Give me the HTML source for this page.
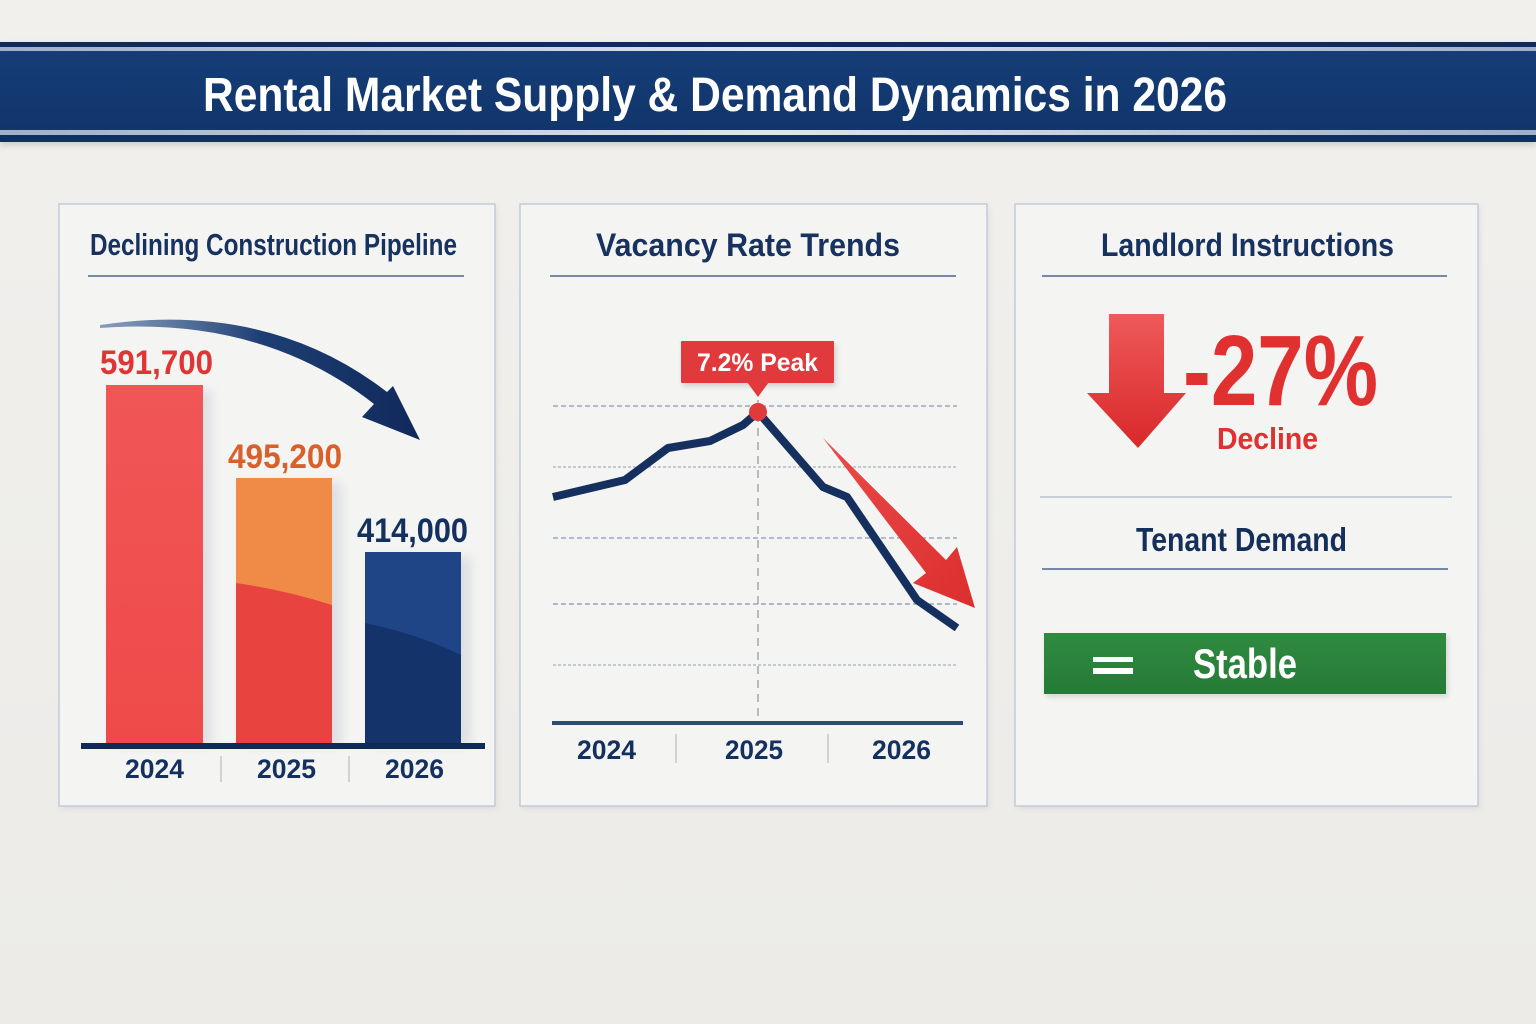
<!DOCTYPE html>
<html>
<head>
<meta charset="utf-8">
<style>
  html, body { margin: 0; padding: 0; background: #efeeeb; }
  svg { display: block; }
  text { font-family: "Liberation Sans", "DejaVu Sans", sans-serif; font-weight: bold; }
</style>
</head>
<body>
<svg width="1536" height="1024" viewBox="0 0 1536 1024" xmlns="http://www.w3.org/2000/svg">
  <defs>
    <linearGradient id="bg" x1="0" y1="0" x2="0" y2="1">
      <stop offset="0" stop-color="#f1f0ed"/>
      <stop offset="1" stop-color="#ecebe8"/>
    </linearGradient>
    <linearGradient id="stripe" x1="0" y1="0" x2="1" y2="0">
      <stop offset="0" stop-color="#9fb0c8"/>
      <stop offset="0.5" stop-color="#dfe5ee"/>
      <stop offset="1" stop-color="#9fb0c8"/>
    </linearGradient>
    <linearGradient id="navyBand" x1="0" y1="0" x2="0" y2="1">
      <stop offset="0" stop-color="#163d77"/>
      <stop offset="1" stop-color="#11356c"/>
    </linearGradient>
    <linearGradient id="bar1" x1="0" y1="0" x2="0" y2="1">
      <stop offset="0" stop-color="#f05656"/>
      <stop offset="1" stop-color="#ef4a4a"/>
    </linearGradient>
    <linearGradient id="arrowNavy" x1="0" y1="0" x2="1" y2="0">
      <stop offset="0" stop-color="#5a78a4" stop-opacity="0.7"/>
      <stop offset="0.5" stop-color="#1e3f74"/>
      <stop offset="1" stop-color="#10295a"/>
    </linearGradient>
    <linearGradient id="redArrow" x1="0" y1="0" x2="1" y2="1">
      <stop offset="0" stop-color="#ea4a4a"/>
      <stop offset="1" stop-color="#dc2e2e"/>
    </linearGradient>
    <linearGradient id="downArrow" x1="0" y1="0" x2="0" y2="1">
      <stop offset="0" stop-color="#ee5a5a"/>
      <stop offset="1" stop-color="#d9282a"/>
    </linearGradient>
    <linearGradient id="green" x1="0" y1="0" x2="0" y2="1">
      <stop offset="0" stop-color="#2f8b40"/>
      <stop offset="1" stop-color="#267a37"/>
    </linearGradient>
    <filter id="shadow" x="-10%" y="-10%" width="120%" height="120%">
      <feGaussianBlur stdDeviation="3"/>
    </filter>
    <filter id="soft" x="-20%" y="-20%" width="140%" height="140%">
      <feGaussianBlur stdDeviation="5"/>
    </filter>
  </defs>

  <!-- background -->
  <rect x="0" y="0" width="1536" height="1024" fill="url(#bg)"/>

  <!-- banner -->
  <rect x="0" y="44" width="1536" height="102" fill="#000" opacity="0.12" filter="url(#shadow)"/>
  <rect x="0" y="42" width="1536" height="100" fill="#0f2b5a"/>
  <rect x="0" y="47" width="1536" height="4" fill="url(#stripe)"/>
  <rect x="0" y="51" width="1536" height="79" fill="url(#navyBand)"/>
  <rect x="0" y="130" width="1536" height="5" fill="url(#stripe)"/>
  <rect x="0" y="135" width="1536" height="7" fill="#10305f"/>
  <text x="203" y="111" font-size="48" fill="#ffffff" textLength="1024" lengthAdjust="spacingAndGlyphs">Rental Market Supply &amp; Demand Dynamics in 2026</text>

  <!-- panel shadows -->
  <rect x="61" y="207" width="436" height="602" fill="#8a93a3" opacity="0.18" filter="url(#shadow)"/>
  <rect x="522" y="207" width="467" height="602" fill="#8a93a3" opacity="0.18" filter="url(#shadow)"/>
  <rect x="1017" y="207" width="463" height="602" fill="#8a93a3" opacity="0.18" filter="url(#shadow)"/>

  <!-- panels -->
  <rect x="59" y="204" width="436" height="602" fill="#f4f4f2" stroke="#c3cad7" stroke-width="1.5"/>
  <rect x="520" y="204" width="467" height="602" fill="#f4f4f2" stroke="#c3cad7" stroke-width="1.5"/>
  <rect x="1015" y="204" width="463" height="602" fill="#f4f4f2" stroke="#c3cad7" stroke-width="1.5"/>

  <!-- ================= PANEL 1 ================= -->
  <text x="90" y="255" font-size="31" fill="#17325f" textLength="367" lengthAdjust="spacingAndGlyphs">Declining Construction Pipeline</text>
  <line x1="88" y1="276" x2="464" y2="276" stroke="#4d6790" stroke-width="1.5"/>

  <!-- curved arrow -->
  <path d="M100 325 Q 268 300 387 392 L 393 386 L 420 440 L 362 417 L 374 404 Q 262 316 100 328 Z" fill="url(#arrowNavy)"/>

  <!-- bar shadows -->
  <rect x="112" y="390" width="100" height="355" fill="#9aa3b5" opacity="0.25" filter="url(#soft)"/>
  <rect x="242" y="483" width="100" height="262" fill="#9aa3b5" opacity="0.25" filter="url(#soft)"/>
  <rect x="371" y="557" width="100" height="188" fill="#9aa3b5" opacity="0.25" filter="url(#soft)"/>

  <!-- bar 1 -->
  <rect x="106" y="385" width="97" height="360" fill="url(#bar1)"/>
  <!-- bar 2 -->
  <rect x="236" y="478" width="96" height="267" fill="#ef8a47"/>
  <path d="M236 583 Q 285 590 332 605 L 332 745 L 236 745 Z" fill="#e8433e"/>
  <!-- bar 3 -->
  <rect x="365" y="552" width="96" height="193" fill="#1f4586"/>
  <path d="M365 623 Q 415 633 461 655 L 461 745 L 365 745 Z" fill="#15336b"/>

  <!-- value labels -->
  <text x="100" y="374" font-size="34" fill="#e03535" textLength="113" lengthAdjust="spacingAndGlyphs">591,700</text>
  <text x="228" y="468" font-size="34" fill="#d8602b" textLength="114" lengthAdjust="spacingAndGlyphs">495,200</text>
  <text x="357" y="542" font-size="34" fill="#14305f" textLength="111" lengthAdjust="spacingAndGlyphs">414,000</text>

  <!-- baseline -->
  <rect x="81" y="743" width="404" height="6" fill="#0f2a55"/>
  <!-- separators -->
  <line x1="221" y1="756" x2="221" y2="782" stroke="#c4c7cc" stroke-width="1.5"/>
  <line x1="349" y1="756" x2="349" y2="782" stroke="#c4c7cc" stroke-width="1.5"/>
  <!-- year labels -->
  <text x="125" y="778" font-size="27" fill="#14305f" textLength="59" lengthAdjust="spacingAndGlyphs">2024</text>
  <text x="257" y="778" font-size="27" fill="#14305f" textLength="59" lengthAdjust="spacingAndGlyphs">2025</text>
  <text x="385" y="778" font-size="27" fill="#14305f" textLength="59" lengthAdjust="spacingAndGlyphs">2026</text>

  <!-- ================= PANEL 2 ================= -->
  <text x="596" y="256" font-size="32" fill="#17325f" textLength="304" lengthAdjust="spacingAndGlyphs">Vacancy Rate Trends</text>
  <line x1="550" y1="276" x2="956" y2="276" stroke="#4d6790" stroke-width="1.5"/>

  <!-- grid -->
  <g stroke="#8796b0" stroke-width="1.2" stroke-dasharray="5 3">
    <line x1="553" y1="406" x2="957" y2="406"/>
    <line x1="553" y1="467" x2="957" y2="467" stroke="#a8b0bd" stroke-dasharray="3 2"/>
    <line x1="553" y1="538" x2="957" y2="538"/>
    <line x1="553" y1="604" x2="957" y2="604"/>
    <line x1="553" y1="665" x2="957" y2="665" stroke="#a8b0bd" stroke-dasharray="3 2"/>
  </g>
  <line x1="758" y1="400" x2="758" y2="722" stroke="#9a9a9a" stroke-width="1.3" stroke-dasharray="8 6"/>
  <!-- axis -->
  <rect x="552" y="721" width="411" height="4" fill="#2d4a75"/>
  <line x1="676" y1="734" x2="676" y2="763" stroke="#c4c7cc" stroke-width="1.5"/>
  <line x1="828" y1="734" x2="828" y2="763" stroke="#c4c7cc" stroke-width="1.5"/>
  <text x="577" y="759" font-size="27" fill="#14305f" textLength="59" lengthAdjust="spacingAndGlyphs">2024</text>
  <text x="725" y="759" font-size="27" fill="#14305f" textLength="58" lengthAdjust="spacingAndGlyphs">2025</text>
  <text x="872" y="759" font-size="27" fill="#14305f" textLength="59" lengthAdjust="spacingAndGlyphs">2026</text>

  <!-- red trend arrow -->
  <polygon points="823,438 946,560 957,547 975,608 913,583 926,573" fill="url(#redArrow)"/>

  <!-- line -->
  <polyline points="553,497 625,480 668,448 710,441 743,425 758,412 823,487 847,497 917,600 957,628" fill="none" stroke="#15305e" stroke-width="8" stroke-linejoin="round"/>

  <!-- peak marker -->
  <circle cx="758" cy="412" r="9" fill="#e03a3a"/>
  <rect x="683" y="344" width="153" height="42" fill="#000" opacity="0.15" filter="url(#shadow)"/>
  <rect x="681" y="341" width="153" height="42" fill="#e03a3c" rx="1"/>
  <polygon points="747,382 769,382 758,397" fill="#e03a3c"/>
  <text x="697" y="371" font-size="25" fill="#ffffff" textLength="121" lengthAdjust="spacingAndGlyphs">7.2% Peak</text>

  <!-- ================= PANEL 3 ================= -->
  <text x="1101" y="256" font-size="32" fill="#17325f" textLength="293" lengthAdjust="spacingAndGlyphs">Landlord Instructions</text>
  <line x1="1042" y1="276" x2="1447" y2="276" stroke="#4d6790" stroke-width="1.5"/>

  <!-- down arrow -->
  <polygon points="1109,314 1164,314 1164,393 1186,393 1138,448 1087,393 1109,393" fill="url(#downArrow)"/>

  <text x="1183" y="405" font-size="100" fill="#e0302f" textLength="195" lengthAdjust="spacingAndGlyphs">-27%</text>
  <text x="1217" y="449" font-size="31" fill="#e0302f" textLength="101" lengthAdjust="spacingAndGlyphs">Decline</text>

  <line x1="1040" y1="497" x2="1452" y2="497" stroke="#b8c2d2" stroke-width="1.5"/>
  <text x="1136" y="551" font-size="33" fill="#14305a" textLength="211" lengthAdjust="spacingAndGlyphs">Tenant Demand</text>
  <line x1="1042" y1="569" x2="1448" y2="569" stroke="#4d6790" stroke-width="1.5"/>

  <!-- stable box -->
  <rect x="1046" y="636" width="402" height="61" fill="#000" opacity="0.12" filter="url(#shadow)"/>
  <rect x="1044" y="633" width="402" height="61" fill="url(#green)"/>
  <rect x="1093" y="657" width="40" height="5" fill="#ffffff"/>
  <rect x="1093" y="668" width="40" height="6" fill="#ffffff"/>
  <text x="1193" y="678" font-size="42" fill="#ffffff" textLength="104" lengthAdjust="spacingAndGlyphs">Stable</text>
</svg>
</body>
</html>
